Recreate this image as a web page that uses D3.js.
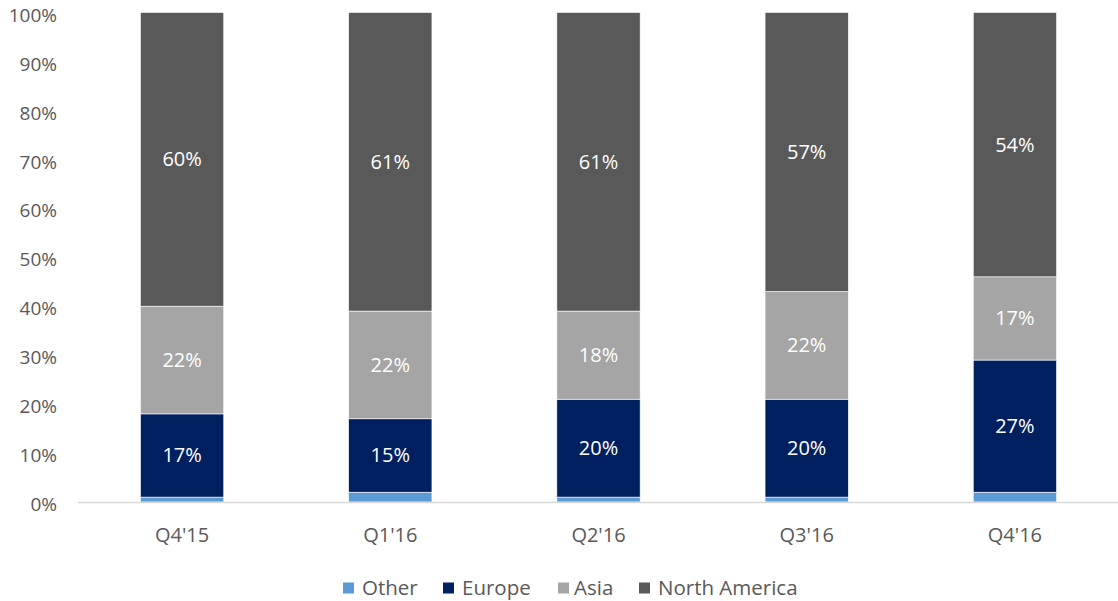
<!DOCTYPE html>
<html>
<head>
<meta charset="utf-8">
<script src="https://cdn.jsdelivr.net/npm/d3@7"></script>
<style>
  body { margin: 0; background: #fff; }
  text { font-family: "Open Sans", "Noto Sans", sans-serif; }
</style>
</head>
<body>
<div id="chart"></div>
<script>
var quarters = ["Q4'15", "Q1'16", "Q2'16", "Q3'16", "Q4'16"];
var seriesNames = ["Other", "Europe", "Asia", "North America"];
var other = [1, 2, 1, 1, 2];
var europe = [17, 15, 20, 20, 27];
var asia = [22, 22, 18, 22, 17];
var northAmerica = [60, 61, 61, 57, 54];
var yTicks = [0, 10, 20, 30, 40, 50, 60, 70, 80, 90, 100];
var colors = ["#5b9bd5", "#002060", "#a5a5a5", "#595959"];

var width = 1118, height = 601;

var svg = d3.select("#chart").append("svg")
    .attr("width", width)
    .attr("height", height);

// build rows for stacking
var rows = quarters.map(function (q, i) {
    return { quarter: q, "Other": other[i], "Europe": europe[i], "Asia": asia[i], "North America": northAmerica[i] };
});
var stacked = d3.stack().keys(seriesNames)(rows);

var xScale = d3.scaleBand()
    .domain(quarters)
    .range([78, 1119])
    .paddingInner(0.6)
    .paddingOuter(0.3);

var yScale = d3.scaleLinear()
    .domain([0, 100])
    .range([502, 12.5]);

// y tick labels (sit a little below their gridline, like the original)
svg.append("g").selectAll("text")
    .data(yTicks)
    .enter().append("text")
    .attr("x", 57)
    .attr("y", function (d) { return yScale(d) + 2.5; })
    .attr("dy", "0.35em")
    .attr("text-anchor", "end")
    .attr("font-size", 19)
    .attr("fill", "#595959")
    .text(function (d) { return d + "%"; });

// bars
var layers = svg.append("g").selectAll("g")
    .data(stacked)
    .enter().append("g")
    .attr("fill", function (d, i) { return colors[i]; });

layers.selectAll("rect")
    .data(function (d) { return d; })
    .enter().append("rect")
    .attr("x", function (d) { return xScale(d.data.quarter); })
    .attr("y", function (d) { return yScale(d[1]); })
    .attr("width", xScale.bandwidth())
    .attr("height", function (d) { return yScale(d[0]) - yScale(d[1]); })
    .attr("stroke", "#fff")
    .attr("stroke-width", 0.6);

// data labels (skip "Other")
stacked.forEach(function (layer, li) {
    if (li === 0) return;
    svg.append("g").selectAll("text")
        .data(layer)
        .enter().append("text")
        .attr("x", function (d) { return xScale(d.data.quarter) + xScale.bandwidth() / 2; })
        .attr("y", function (d) { return yScale((d[0] + d[1]) / 2); })
        .attr("dy", "0.35em")
        .attr("text-anchor", "middle")
        .attr("font-size", 20)
        .attr("fill", "#fff")
        .text(function (d) { return (d[1] - d[0]) + "%"; });
});

// x axis line
svg.append("line")
    .attr("x1", 78).attr("x2", 1118)
    .attr("y1", yScale(0) + 0.5).attr("y2", yScale(0) + 0.5)
    .attr("stroke", "#d9d9d9")
    .attr("stroke-width", 1.5);

// x labels
svg.append("g").selectAll("text")
    .data(quarters)
    .enter().append("text")
    .attr("x", function (d) { return xScale(d) + xScale.bandwidth() / 2; })
    .attr("y", 535)
    .attr("dy", "0.35em")
    .attr("text-anchor", "middle")
    .attr("font-size", 20)
    .attr("fill", "#595959")
    .text(function (d) { return d; });

// legend
var legendX = [343, 443, 558, 639];
var legend = svg.append("g").selectAll("g")
    .data(seriesNames)
    .enter().append("g")
    .attr("transform", function (d, i) { return "translate(" + legendX[i] + ",588)"; });

legend.append("rect")
    .attr("x", 0).attr("y", -5.5)
    .attr("width", 11).attr("height", 11)
    .attr("fill", function (d, i) { return colors[i]; });

legend.append("text")
    .attr("x", function (d, i) { return i === 2 ? 16 : 19; })
    .attr("dy", "0.35em")
    .attr("font-size", 20.5)
    .attr("fill", "#595959")
    .text(function (d) { return d; });
</script>
</body>
</html>
